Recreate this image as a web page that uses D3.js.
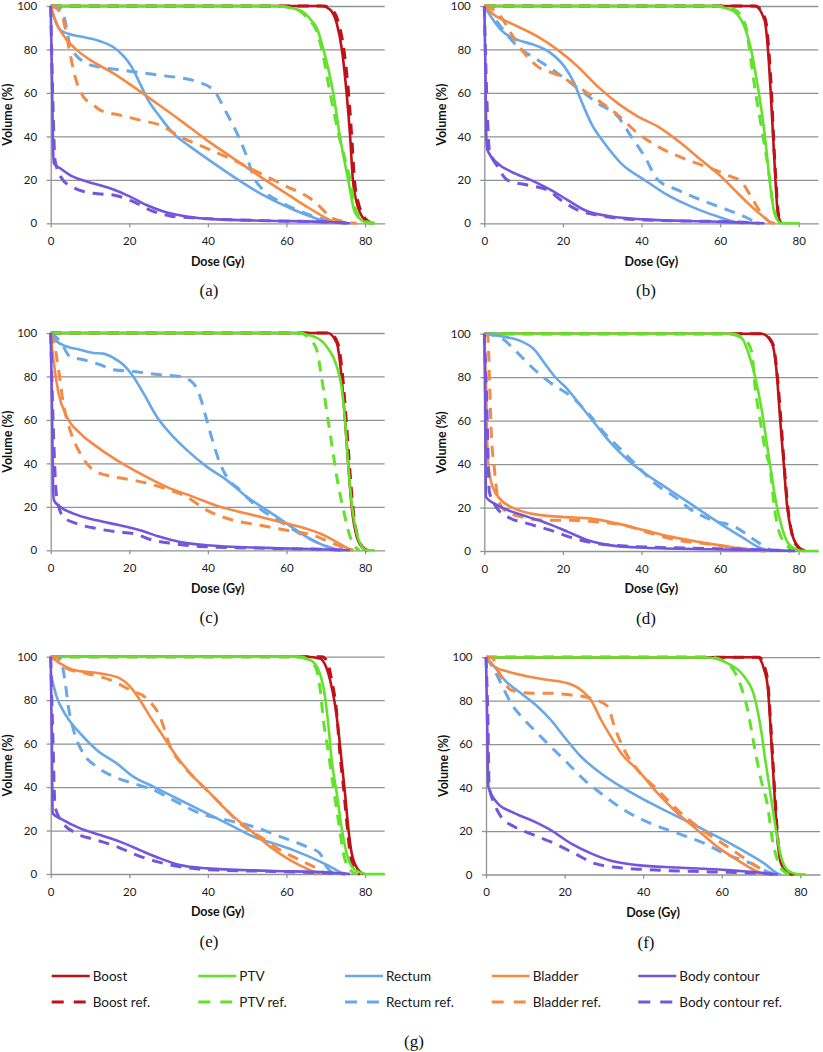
<!DOCTYPE html>
<html>
<head>
<meta charset="utf-8">
<script src="https://d3js.org/d3.v7.min.js"></script>
<style>
  body { margin: 0; background: #fff; }
  svg { display: block; }
</style>
</head>
<body>
<svg id="chart" width="823" height="1052"></svg>
<script>
// axis ticks
const xTicks = [0, 20, 40, 60, 80];
const yTicks = [0, 20, 40, 60, 80, 100];

// series names (legend)
const seriesNames = ['Boost', 'PTV', 'Rectum', 'Bladder', 'Body contour'];
const panelIds = ['a', 'b', 'c', 'd', 'e', 'f'];

// ---- panel (a) : [dose Gy, volume %]
const a_boost = [[0,100],[69,100],[71,98.5],[72.8,92],[74.1,80],[75.3,60],[76.2,40],[76.9,20],[77.8,10],[78.7,5],[80,1.5],[81.3,0]];
const a_boostRef = [[0,100],[69.5,100],[71.5,98.5],[73.3,92],[74.6,80],[75.8,60],[76.6,40],[77.3,20],[78.2,10],[79.1,5],[80.4,1.5],[81.8,0]];
const a_ptv = [[0,100],[57,100],[63.4,98],[66.5,93],[67.7,90],[69.4,80],[71.9,60],[73.6,40],[75.7,20],[77.4,5],[79.5,1],[81,0],[82.5,0]];
const a_ptvRef = [[0,100],[57,100],[63,98],[66,93],[67.3,90],[69,80],[71.1,60],[73.4,40],[76.2,20],[77.8,5],[79.8,1],[82.5,0]];
const a_rectum = [[0,100],[1,94],[2.4,89],[4.5,87.2],[8,85.8],[12.6,83.8],[16,81],[18.5,77],[20.6,72],[22.7,64.4],[24.8,56.7],[27.8,49],[31.2,41.4],[35.5,35.3],[39.7,29.9],[46.5,21.5],[53.3,13.8],[59.2,8.4],[65.1,3.8],[70.2,0.8],[74.5,0]];
const a_rectumRef = [[0,100],[2.5,98.5],[3.4,95],[4.9,82],[6.6,77],[8.3,74.4],[12,72],[16.8,70.8],[27,68.3],[37.2,65.2],[41.4,61.3],[44.8,50.6],[47.8,39.9],[49.9,30.7],[51.6,21.5],[54.1,15.3],[59.2,9.2],[66,3.8],[71.9,0.8],[75.3,0]];
const a_bladder = [[0,100],[1.5,92],[4.1,84.4],[6.6,79.8],[10,75.2],[16,69],[21,62.9],[27,55.2],[32.9,47.5],[39.7,38.3],[46.5,29.9],[53.3,21.5],[59.2,14.6],[65.1,7.7],[69.4,3.1],[71.9,0.8],[75.3,0]];
const a_bladderRef = [[0,100],[1.5,98.9],[3.2,93.6],[4.9,78.2],[6.2,67.5],[8.3,58.3],[10.5,55],[12.6,52.1],[17.6,49.8],[22.7,47.5],[27.8,45.2],[32.9,39.9],[39.7,34.5],[46.5,29.1],[53.3,23],[60.1,16.9],[66,11.5],[68.5,7.7],[71,3.1],[74.5,0.8],[77.9,0]];
const a_body = [[0,100],[0.3,70],[0.6,35],[0.8,27.6],[2.4,25.3],[4.9,22.2],[9.2,19.2],[15.1,16.1],[20.2,12.3],[24.4,8.4],[28.7,5.4],[34.6,3.1],[42.2,1.8],[55,1.2],[71.9,0.5],[76.2,0]];
const a_bodyRef = [[0,100],[0.5,60],[1.1,29],[2.8,20.7],[5.3,16.9],[10.9,13.8],[16,13],[21,10],[25.3,6.1],[30.4,3.4],[38,2.3],[55,1.2],[71.9,0.5],[76,0]];

// ---- panel (b)
const b_boost = [[0,100],[68.8,100],[71.3,93.6],[72.2,79.8],[72.9,59.8],[73.5,39.9],[74.1,19.9],[74.7,4.6],[75.6,0]];
const b_boostRef = [[0,100],[69,100],[71.5,94],[72.4,80],[73.1,60],[73.6,40],[74.2,20],[74.8,5],[75.5,0]];
const b_ptv = [[0,100],[57.7,100],[62.8,98.2],[66.2,90.5],[67.9,79.8],[69.6,62.9],[70.9,47.5],[71.8,33.7],[72.6,19.9],[73.9,4.6],[75.6,0],[80.3,0]];
const b_ptvRef = [[0,100],[59,100],[63.5,98.5],[66.5,91],[67.5,79.8],[68.8,62.9],[70.5,44.5],[72.2,26.1],[73.9,4.6],[75.5,0]];
const b_rectum = [[0,100],[1.7,95.1],[4.2,89],[8.5,84.4],[12.7,82.1],[17,78.2],[20.4,72.1],[22.9,64.4],[24.6,56.7],[27.2,46],[30.6,36.8],[34.8,27.6],[40.8,19.9],[45.9,13.8],[52.7,7.7],[59.4,3.1],[64.5,0.3],[66.2,0]];
const b_rectumRef = [[0,100],[1.7,96.6],[4.2,90.5],[8.5,81.3],[13.6,75.2],[18.7,69],[23.8,62.1],[28.9,55.2],[34,49.1],[37.4,39.9],[40.8,30.7],[44.2,19.9],[49.3,15.3],[55.2,10.7],[62,6.1],[66.2,3.1],[68.8,0.8],[70,0]];
const b_bladder = [[0,100],[2.5,95.9],[6.8,92],[13.6,85.9],[18.7,79.8],[23.8,72.1],[28.9,62.9],[34,55.2],[39.1,49.1],[44.2,44.5],[50.1,36.8],[55.2,29.1],[60.3,21.5],[63.7,15.3],[67.1,9.2],[70.5,3.8],[73,0.3],[74,0]];
const b_bladderRef = [[0,100],[0.8,99.7],[4.2,95.1],[6.8,87.4],[10.2,78.2],[13.6,72.1],[18.7,68.3],[23.8,62.9],[28.9,56.7],[34,49.8],[39.1,41.4],[45.9,33.7],[51.8,29.1],[57.7,25.3],[62.8,21.5],[65.4,19.2],[67.9,12.3],[70.5,4.6],[73,0.3],[74,0]];
const b_body = [[0,100],[0.3,70],[0.5,40],[0.8,33.7],[3.4,27.6],[6.8,23.8],[11.9,19.9],[17,15.3],[21.2,10.7],[25.5,6.1],[32.3,3.1],[40.8,1.8],[57.7,0.8],[66.2,0.3],[71.3,0]];
const b_bodyRef = [[0,100],[0.6,60],[1.3,33.7],[3.4,26.1],[5.9,19.9],[11,17.6],[16.1,15.3],[19.5,10.7],[23.8,6.1],[29.7,3.4],[40.8,1.5],[66.2,0.5],[70,0]];

// ---- panel (c)
const c_boost = [[0,100],[70.5,100],[72.8,95.4],[74,80],[74.9,60],[75.7,40],[76.6,20],[77.9,6.2],[79.6,0.8],[80.4,0]];
const c_boostRef = [[0,100],[71,100],[73.1,95],[74.3,80],[75.2,60],[76,40],[76.9,20],[78.1,6.2],[79.8,0.8],[80.6,0]];
const c_ptv = [[0,100],[61.7,100],[66.8,98.5],[70.2,93.8],[72.8,84.6],[74,75.4],[74.9,60],[75.7,40],[76.6,21.5],[77.9,7.7],[79.6,0.8],[80.5,0],[82.5,0]];
const c_ptvRef = [[0,100],[63.4,100],[66,97],[67.7,92.3],[68.9,80],[70.2,64.6],[71.5,49.2],[72.8,33.8],[74.5,18.5],[76.2,6.2],[77.9,0.8],[78.7,0]];
const c_rectum = [[0,100],[1.5,96.2],[4.1,93.8],[7.5,92.3],[10.9,90.8],[13.4,90.5],[16,88.5],[18.5,85.4],[21,80],[23.6,72.3],[27,61.5],[30.4,53.8],[34.6,46.2],[39.7,38.5],[44.8,32.3],[49.9,24.6],[55,18.5],[60.1,12.3],[65.1,6.2],[69.4,2.3],[72.8,0.3],[74.5,0]];
const c_rectumRef = [[0,100],[2.4,96.2],[4.9,89.2],[8.3,87.7],[12.6,85.4],[16,83.1],[21,82.3],[27.8,80.8],[32.9,80],[36.3,76.9],[38,70.8],[39.7,60],[41.4,49.2],[43.1,40],[44.8,33.8],[48.2,27.7],[51.6,21.5],[55,16.9],[59.2,12.3],[63.4,7.7],[68.5,3.1],[71.9,0.8],[73.6,0]];
const c_bladder = [[0,100],[0.7,87.7],[2,72.3],[4.1,61.5],[7.5,53.8],[11.7,47.7],[16.8,41.5],[22.7,35.4],[29.5,29.2],[36.3,24.6],[43.1,20],[49.9,16.9],[56.7,13.8],[63.4,10.8],[68.5,7.7],[72.8,3.8],[75.3,1.2],[77,0]];
const c_bladderRef = [[0,100],[0.7,96.9],[2,83.1],[3.2,67.7],[4.9,55.4],[7.5,44.6],[10.9,36.9],[16,33.8],[21,32.3],[27.8,29.2],[34.6,24.6],[39.7,18.5],[46.5,13.8],[53.3,11.5],[60.1,9.2],[66.8,6.9],[71.9,3.1],[75.3,0.8],[77,0]];
const c_body = [[0,100],[0.3,70],[0.6,30],[0.8,23.1],[2.4,20],[5.8,16.9],[11.7,13.8],[17.6,11.5],[22.7,9.2],[27.8,6.2],[32.9,3.8],[39.7,2.3],[55,1.1],[71.9,0.3],[76.2,0]];
const c_bodyRef = [[0,100],[0.6,60],[1.5,25],[3.2,15.4],[6.6,12.3],[11.7,10],[16.8,8.5],[21,7.7],[26.1,4.6],[31.2,3.1],[38,1.8],[55,0.9],[71.9,0.3],[75,0]];

// ---- panel (d)
const d_boost = [[0,100],[70.6,100],[73.2,95.7],[74.5,80.3],[75.3,60.3],[76.2,40.3],[77,21.8],[78.3,8],[80,1.8],[81.7,0]];
const d_boostRef = [[0,100],[70.8,100],[73.4,95.5],[74.6,80],[75.5,60],[76.3,40],[77.2,21],[78.3,8],[79.8,1.8],[81.2,0]];
const d_ptv = [[0,100],[61.3,100],[65.5,98],[67.2,91.1],[68.9,80.3],[70.6,64.9],[71.9,49.5],[72.8,38.8],[74,24.9],[75.7,11.1],[77.4,3.4],[80,0.3],[81,0],[85,0]];
const d_ptvRef = [[0,100],[63,100],[66.5,97],[68.1,91.1],[68.9,75.7],[70.2,60.3],[71.5,46.5],[72.8,37.2],[73.6,23.4],[74.9,9.5],[77.4,1.8],[79.1,0]];
const d_rectum = [[0,100],[4.3,98.8],[9.4,96.5],[12.8,92.6],[15.3,86.5],[17.9,80.3],[21.3,74.2],[24.7,66.5],[28.1,58.8],[32.3,49.5],[36.6,41.8],[40.9,35.7],[46,29.5],[51.1,23.4],[56.2,17.2],[61.3,11.1],[65.5,6.5],[69.8,1.8],[72.3,0.3],[73.5,0]];
const d_rectumRef = [[0,100],[4.3,98],[7.7,92.6],[11.9,84.9],[17,77.2],[22.1,71.1],[26.4,63.4],[30.6,54.2],[34.9,46.5],[39.1,38.8],[43.4,31.1],[48.5,24.9],[52.8,18.8],[57.9,14.2],[63.8,11.1],[68.9,4.9],[71.5,1.8],[73.2,0]];
const d_bladder = [[0,100],[0.4,80.3],[0.9,41.8],[2.1,29.5],[4.3,23.4],[7.7,19.5],[11.9,17.2],[19.6,15.7],[27.2,14.9],[34,12.6],[40.9,9.5],[47.7,6.5],[54.5,4.2],[61.3,2.2],[67.2,0.6],[71.5,0]];
const d_bladderRef = [[0,100],[0.9,98.8],[1.3,80.3],[1.7,57.2],[2.6,37.2],[3.4,24.9],[5.1,18.8],[9.4,15.7],[15.3,14.2],[22.1,14.2],[28.9,13.4],[35.7,11.8],[42.6,8],[49.4,4.9],[56.2,3.4],[63,1.8],[68.1,0.6],[71.5,0]];
const d_body = [[0,100],[0.2,70],[0.4,24.9],[2.6,21.8],[6,18.8],[11.1,15.7],[16.2,12.6],[21.3,8.8],[26.4,4.9],[32.3,2.6],[40.9,1.5],[57.9,0.8],[74.9,0.3],[79.1,0]];
const d_bodyRef = [[0,100],[0.6,70],[1.3,27.2],[3,20.3],[6,15.7],[11.1,12.6],[17,9.5],[23,5.7],[28.9,3.4],[36.6,2.2],[57.9,1.1],[74.9,0.3],[78,0]];

// ---- panel (e)
const e_boost = [[0,100],[65.1,100],[68.5,99.2],[71.1,89.3],[72.3,78.5],[73.2,66.3],[74,52.5],[74.9,37.1],[75.7,21.8],[76.6,9.5],[78.3,1.8],[79.6,0]];
const e_boostRef = [[0,100],[69,100],[70.3,98],[71.5,89.3],[72.8,73.9],[73.6,55.5],[74.5,40.2],[75.3,24.8],[76.2,9.5],[77.4,1.8],[78.7,0]];
const e_ptv = [[0,100],[61.7,100],[66,98.5],[68.5,92.3],[69.8,81.6],[70.7,67.8],[71.5,52.5],[72.8,37.1],[74,21.8],[75.3,9.5],[77,2.6],[79.6,0.3],[80.5,0],[85,0]];
const e_ptvRef = [[0,100],[63.4,100],[67.3,95.4],[68.5,86.2],[69.4,70.9],[70.7,55.5],[71.9,40.2],[73.2,24.8],[74.5,9.5],[76.2,1.8],[77.9,0]];
const e_rectum = [[0,92],[1.5,81.6],[4.1,72.4],[7.5,64.7],[11.7,57.1],[16.8,50.9],[21,44.8],[26.1,40.2],[31.2,35.6],[36.3,31],[41.4,26.4],[46.5,21.8],[51.6,17.2],[56.7,14.1],[61.7,11],[66.8,7.2],[71.1,3.4],[74.5,0.3],[75.3,0]];
const e_rectumRef = [[0,100],[2.4,99.2],[3.6,89.3],[4.5,77],[5.8,66.3],[8.3,55.5],[11.7,49.4],[16,44.8],[21,41.7],[26.1,38.7],[31.2,34],[38,27.9],[44.8,24.8],[51.6,21.8],[58.4,17.2],[65.1,12.6],[68.5,9.5],[70.2,3.4],[71.9,0.3],[72.5,0]];
const e_bladder = [[0,100],[2.4,96.9],[5.8,93.9],[12.6,92.3],[17.6,90],[20.2,86.2],[22.7,80.1],[25.3,72.4],[28.7,63.2],[32.1,54],[36.3,44.8],[40.6,37.1],[45.6,27.9],[50.7,20.2],[55.8,12.6],[60.9,6.4],[66,1.8],[68.5,0]];
const e_bladderRef = [[0,100],[1.1,100],[4.1,94.6],[9.2,92.3],[15.1,89.3],[20.2,84.7],[24.4,80.8],[27.8,72.4],[30.4,58.6],[33.9,49.4],[38,41.7],[43.1,32.5],[48.2,23.3],[53.3,17.2],[58.4,11],[63.4,6.4],[67.7,2.6],[70.2,0]];
const e_body = [[0,100],[0.3,60],[0.5,27.9],[3.2,24.8],[7.5,21],[12.6,17.9],[17.6,14.9],[22.7,11],[27.8,7.2],[32.9,4.1],[39.7,2.6],[55,1.5],[71.9,0.6],[76.2,0]];
const e_bodyRef = [[0,100],[0.6,60],[1.1,31],[3.2,23.3],[6.6,18.7],[11.7,15.6],[16.8,12.6],[21.9,8.7],[27,5.7],[33.8,3.1],[42.2,1.8],[59.2,1.1],[71.9,0.3],[75,0]];

// ---- panel (f)
const f_boost = [[0,100],[69.1,100],[70.8,94.2],[71.7,86.5],[72.3,71.1],[72.9,52.7],[73.5,34.3],[74.2,15.8],[75.1,5.1],[76.8,1.2],[78.5,0]];
const f_boostRef = [[0,100],[69.5,100],[71,95],[71.8,87],[72.4,71],[73,52.7],[73.6,34.3],[74.3,15.8],[75.2,5.1],[76.6,1.2],[78,0]];
const f_ptv = [[0,100],[55.6,100],[61.5,97.2],[65.7,91.1],[68.3,81.9],[70,66.5],[71.2,51.2],[72.5,35.8],[73.8,20.4],[75.1,8.1],[76.8,2],[79.3,0.2],[81.4,0]];
const f_ptvRef = [[0,100],[57.3,100],[62.3,95.7],[64.9,86.5],[66.6,75.7],[68.3,58.8],[70,43.5],[71.7,31.2],[72.9,15.8],[74.2,6.6],[75.9,1.2],[77.6,0]];
const f_rectum = [[0,100],[2.1,95.7],[4.7,89.6],[8.9,83.4],[13.1,77.3],[16.5,71.1],[19.9,63.4],[24.2,54.2],[29.3,46.5],[34.4,40.4],[40.3,34.3],[47.1,28.1],[53.9,22],[60.6,15.8],[66.6,9.7],[70.8,5.1],[74.2,0.5],[75.1,0]];
const f_rectumRef = [[0,100],[2.1,94.2],[3.8,88],[6.4,78.8],[9.8,71.1],[13.1,65],[16.5,58.8],[20.8,51.2],[25,43.5],[29.3,37.3],[35.2,29.6],[41.9,23.5],[48.8,18.9],[55.6,14.3],[60.6,9.7],[64,7.4],[67.4,5.1],[71.7,1.2],[73.4,0]];
const f_bladder = [[0,100],[2.1,95.7],[5.5,93.4],[10.7,91.1],[15.7,89.6],[20.8,88],[24.2,84.9],[26.7,80.3],[29.3,71.1],[31.8,63.4],[34.4,55.8],[38.6,48.1],[43.7,37.3],[48.8,28.1],[53.9,20.4],[58.9,12.7],[64,6.6],[68.3,2],[70.8,0]];
const f_bladderRef = [[0,100],[1.3,100],[3.8,91.1],[6.4,84.9],[11.5,83.4],[16.5,83.4],[21.6,82.6],[26.7,81.1],[31,77.3],[32.7,68],[35.2,57.3],[38.6,48.1],[43.7,38.9],[48.8,29.6],[53.9,22],[58.9,15.8],[64,9.7],[69.1,3.5],[72.5,0]];
const f_body = [[0,100],[0.3,70],[0.6,40.4],[3,32.7],[6.4,28.9],[11.5,25],[16.5,20.4],[21.6,14.3],[26.7,9.7],[31.8,6.3],[38.6,4.3],[48.8,3.2],[61.5,2],[70,0.8],[74.2,0]];
const f_bodyRef = [[0,100],[0.5,70],[0.8,40.4],[2.1,32.7],[3.8,26.6],[7.2,22],[12.3,18.1],[17.4,14.3],[22.5,9.7],[27.6,5.1],[33.5,3.2],[40.3,2.3],[57.3,1.2],[70,0.5],[73,0]];

const panelData = {
  a: [a_boost, a_ptv, a_rectum, a_bladder, a_body, a_boostRef, a_ptvRef, a_rectumRef, a_bladderRef, a_bodyRef],
  b: [b_boost, b_ptv, b_rectum, b_bladder, b_body, b_boostRef, b_ptvRef, b_rectumRef, b_bladderRef, b_bodyRef],
  c: [c_boost, c_ptv, c_rectum, c_bladder, c_body, c_boostRef, c_ptvRef, c_rectumRef, c_bladderRef, c_bodyRef],
  d: [d_boost, d_ptv, d_rectum, d_bladder, d_body, d_boostRef, d_ptvRef, d_rectumRef, d_bladderRef, d_bodyRef],
  e: [e_boost, e_ptv, e_rectum, e_bladder, e_body, e_boostRef, e_ptvRef, e_rectumRef, e_bladderRef, e_bodyRef],
  f: [f_boost, f_ptv, f_rectum, f_bladder, f_body, f_boostRef, f_ptvRef, f_rectumRef, f_bladderRef, f_bodyRef]
};

// styles
const colors = ['#BE1118', '#63E22C', '#68A8E8', '#F58A45', '#7256DD'];
const gridColor = '#8F9393';
const textColor = '#1a1a1a';
const chartFont = 'Lato, "Open Sans", sans-serif';
const capFont = '"Liberation Serif", "DejaVu Serif", serif';

// panel placement (left edge of x=0, top of y=100)
const plotW = 334, plotH = 217.3;
const layout = {
  a: { left: 50.7, top: 6, cap: 209 },
  b: { left: 484.3, top: 6, cap: 646 },
  c: { left: 50.7, top: 333, cap: 209 },
  d: { left: 484.3, top: 333.7, cap: 646 },
  e: { left: 50.7, top: 656.7, cap: 209 },
  f: { left: 486, top: 657.2, cap: 646 }
};

const svg = d3.select('#chart');
svg.append('rect').attr('width', 823).attr('height', 1052).attr('fill', '#fff');

const x = d3.scaleLinear().domain([0, 85]).range([0, plotW]);
const y = d3.scaleLinear().domain([0, 100]).range([plotH, 0]);

const line = d3.line()
  .x(d => x(d[0]))
  .y(d => y(d[1]))
  .curve(d3.curveMonotoneX);

// draw order: boost first, PTV over it, then organs
const drawOrder = [0, 5, 1, 6, 2, 7, 3, 8, 4, 9];

panelIds.forEach(id => {
  const L = layout[id];
  const g = svg.append('g').attr('transform', `translate(${L.left},${L.top})`);

  // horizontal grid
  g.append('g')
    .call(d3.axisLeft(y).tickValues(yTicks.slice(1)).tickSize(-plotW).tickFormat(''))
    .call(s => s.select('.domain').remove())
    .call(s => s.selectAll('line').attr('stroke', gridColor).attr('stroke-width', 1.3));

  // y axis
  g.append('g')
    .call(d3.axisLeft(y).tickValues(yTicks).tickSizeInner(4).tickSizeOuter(0).tickPadding(9.5))
    .call(s => s.select('.domain').attr('stroke', gridColor).attr('stroke-width', 1.3))
    .call(s => s.selectAll('line').attr('stroke', gridColor).attr('stroke-width', 1.3))
    .call(s => s.selectAll('text').attr('fill', textColor).attr('font-family', chartFont).attr('font-size', 11.5));

  // x axis
  g.append('g')
    .attr('transform', `translate(0,${plotH})`)
    .call(d3.axisBottom(x).tickValues(xTicks).tickSizeInner(4).tickSizeOuter(0).tickPadding(9.5))
    .call(s => s.select('.domain').attr('stroke', gridColor).attr('stroke-width', 1.3))
    .call(s => s.selectAll('line').attr('stroke', gridColor).attr('stroke-width', 1.3))
    .call(s => s.selectAll('text').attr('fill', textColor).attr('font-family', chartFont).attr('font-size', 11.5));

  // axis titles
  g.append('text')
    .attr('x', plotW / 2).attr('y', plotH + 42.5)
    .attr('text-anchor', 'middle')
    .attr('font-family', chartFont).attr('font-weight', 'bold').attr('font-size', 12.5)
    .attr('fill', '#111')
    .text('Dose (Gy)');

  g.append('text')
    .attr('transform', `translate(${-42.7},${plotH / 2}) rotate(-90)`)
    .attr('dy', '0.35em')
    .attr('text-anchor', 'middle')
    .attr('font-family', chartFont).attr('font-weight', 'bold').attr('font-size', 12.5)
    .attr('fill', '#111')
    .text('Volume (%)');

  // curves
  const series = panelData[id];
  drawOrder.forEach(i => {
    const isRef = i >= 5;
    g.append('path')
      .datum(series[i])
      .attr('d', line)
      .attr('fill', 'none')
      .attr('stroke', colors[i % 5])
      .attr('stroke-width', isRef ? 3 : 2.6)
      .attr('stroke-dasharray', isRef ? '11,8' : null)
      .attr('stroke-linejoin', 'round');
  });

  // caption
  svg.append('text')
    .attr('x', L.cap).attr('y', L.top + plotH + 73)
    .attr('text-anchor', 'middle')
    .attr('font-family', capFont).attr('font-size', 17)
    .attr('fill', '#111')
    .text(`(${id})`);
});

// legend
const legendX = [51.7, 198.3, 345, 491.7, 638.3];
const legendRows = [976, 1002];
const lg = svg.append('g');
legendRows.forEach((ly, r) => {
  seriesNames.forEach((name, i) => {
    lg.append('line')
      .attr('x1', legendX[i]).attr('x2', legendX[i] + 38)
      .attr('y1', ly).attr('y2', ly)
      .attr('stroke', colors[i])
      .attr('stroke-width', r ? 3 : 2.6)
      .attr('stroke-dasharray', r ? '12,10' : null);
    lg.append('text')
      .attr('x', legendX[i] + 41).attr('y', ly)
      .attr('dy', '0.35em')
      .attr('font-family', chartFont).attr('font-size', 13.5)
      .attr('fill', textColor)
      .text(r ? name + ' ref.' : name);
  });
});

svg.append('text')
  .attr('x', 414).attr('y', 1047)
  .attr('text-anchor', 'middle')
  .attr('font-family', capFont).attr('font-size', 17)
  .attr('fill', '#111')
  .text('(g)');
</script>
</body>
</html>
